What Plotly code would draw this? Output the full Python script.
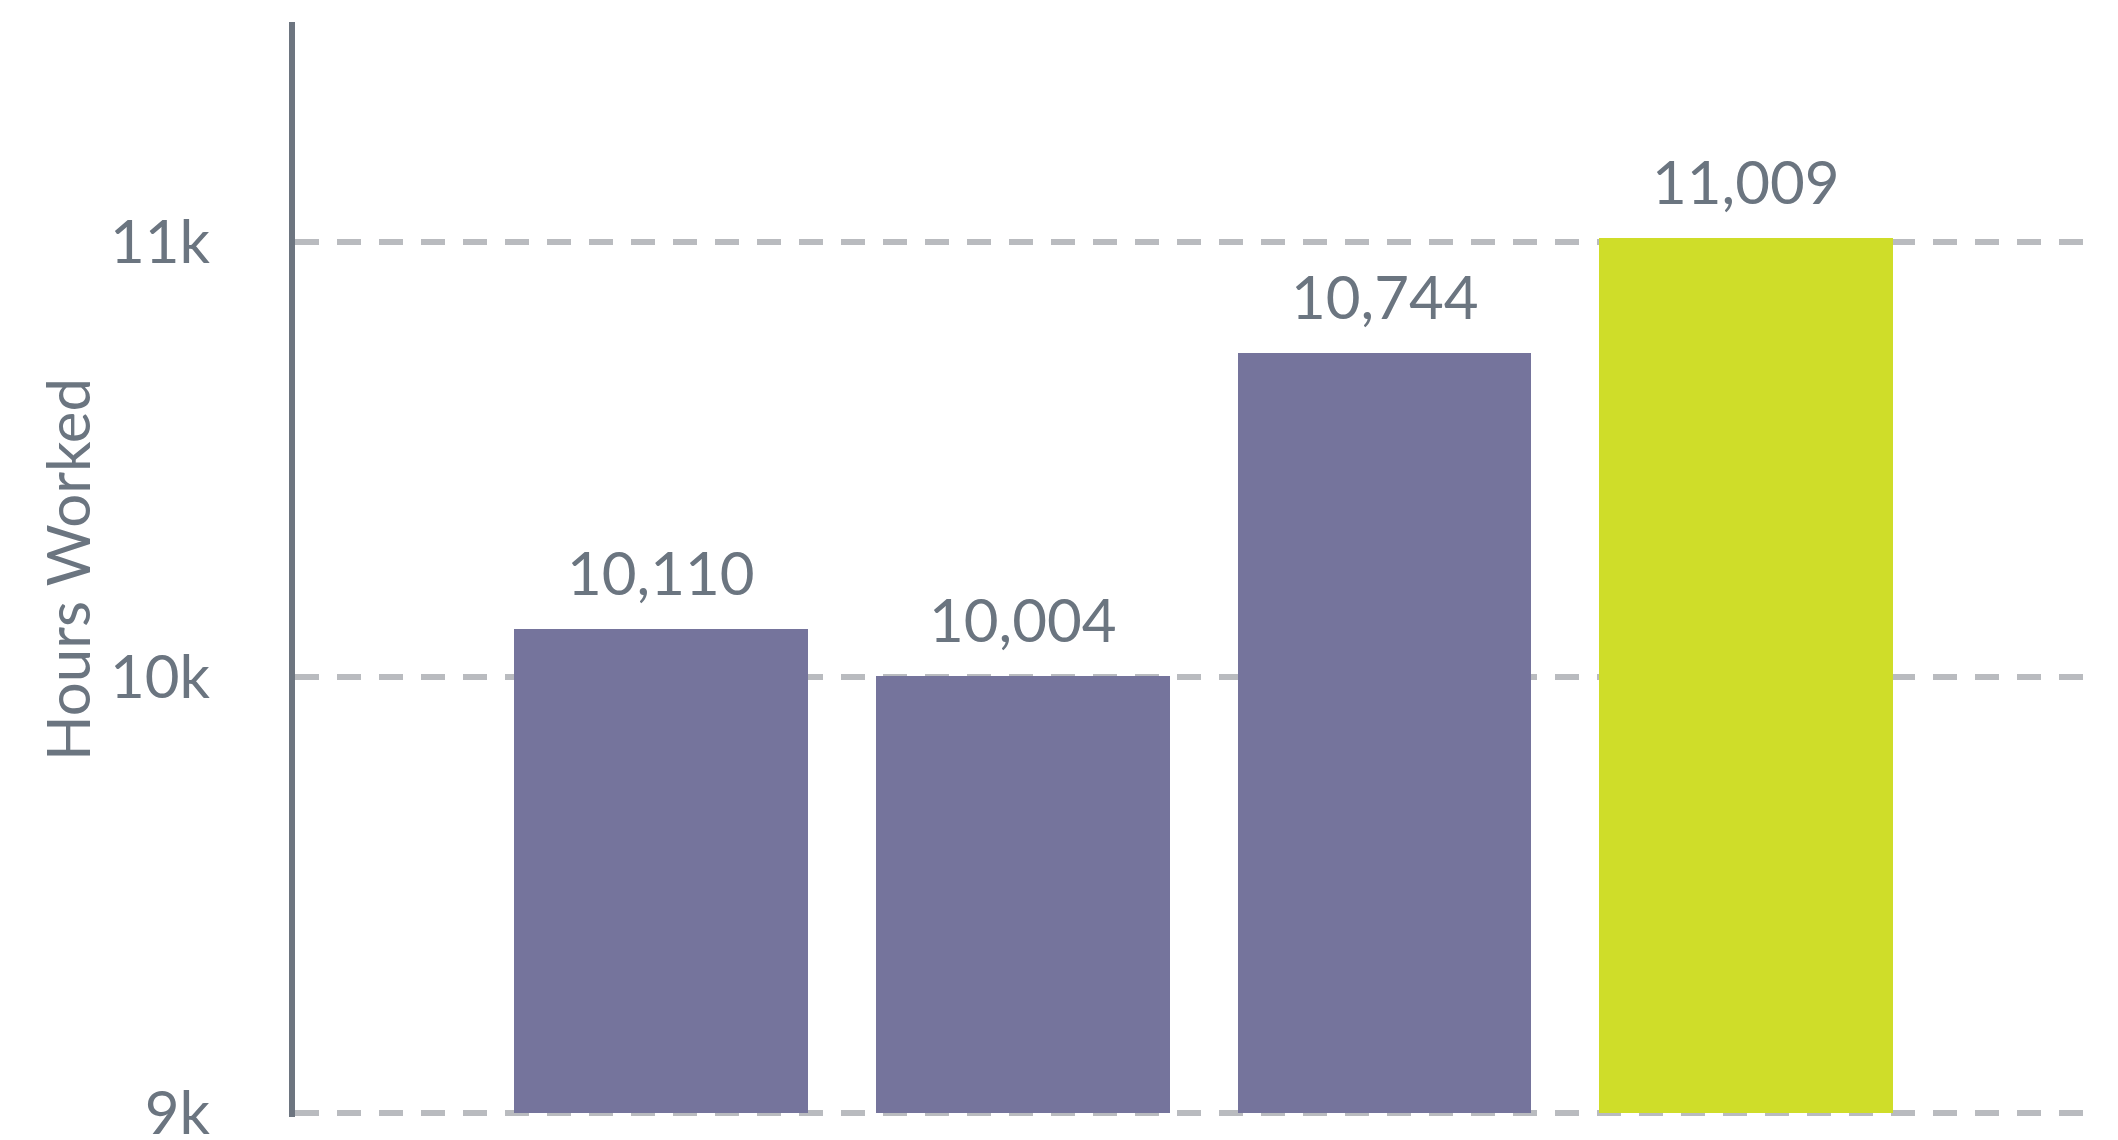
import plotly.graph_objects as go

# ---- data ----
categories = ["Period 1", "Period 2", "Period 3", "Period 4"]
hours_worked = [10110, 10004, 10744, 11009]
y_tick_values = [9000, 10000, 11000]
y_tick_labels = ["9k", "10k", "11k"]
highlight_category = "Period 4"

# ---- style ----
PURPLE = "#75749c"
GREEN = "#cfdd29"
TEXT = "#6b7580"
GRID = "#b9bbbf"
AXIS = "#6d7580"
FONT = "Lato"

bar_colors = [GREEN if c == highlight_category else PURPLE for c in categories]

fig = go.Figure()
fig.add_trace(go.Bar(
    x=categories,
    y=[v - 9000 for v in hours_worked],
    base=9000,
    marker=dict(color=bar_colors, line=dict(width=0)),
    width=0.812,
    hoverinfo="skip",
))

for c, v in zip(categories, hours_worked):
    fig.add_annotation(
        x=c, y=v, text=f"{v:,}", showarrow=False,
        yanchor="bottom", xanchor="center", yshift=19,
        font=dict(family=FONT, size=60, color=TEXT),
    )

fig.update_layout(
    width=2118, height=1140,
    margin=dict(l=295, r=32, t=22, b=23, autoexpand=False),
    paper_bgcolor="white", plot_bgcolor="white",
    showlegend=False,
    font=dict(family=FONT, size=60, color=TEXT),
    bargap=0,
)
fig.update_xaxes(
    type="category", range=[-1.013, 3.94],
    showticklabels=False, showgrid=False, zeroline=False, showline=False, ticks="",
)
fig.update_yaxes(
    range=[8990, 11505],
    tickvals=y_tick_values, ticktext=y_tick_labels,
    tickfont=dict(family=FONT, size=60, color=TEXT),
    ticklabelstandoff=67,
    ticklabeloverflow="allow",
    showgrid=True, gridcolor=GRID, gridwidth=6, griddash="24px,18px",
    zeroline=False,
    showline=True, linecolor=AXIS, linewidth=6,
    ticks="",
    title=dict(text="Hours Worked", font=dict(family=FONT, size=60, color=TEXT), standoff=2),
    automargin=False,
)

fig.write_html("out.html")
